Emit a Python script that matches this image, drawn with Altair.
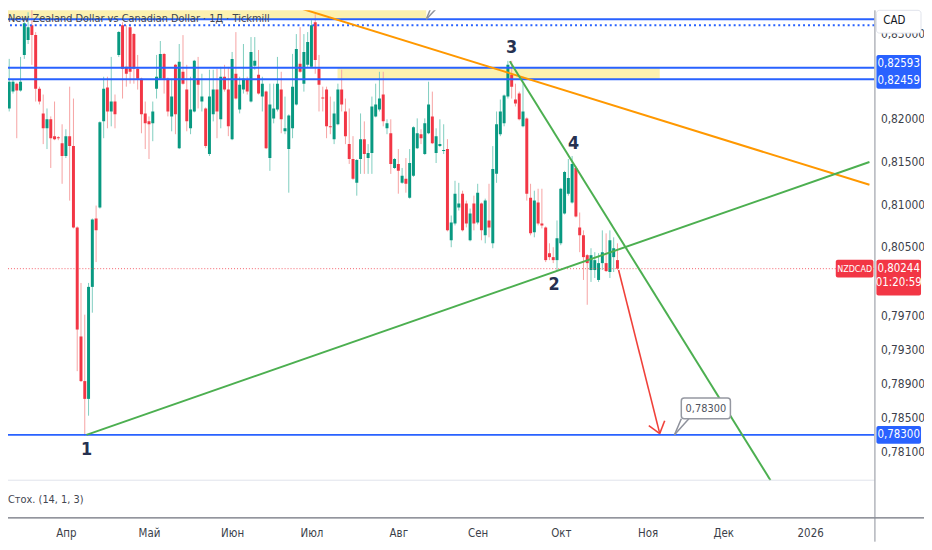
import json
import altair as alt
import pandas as pd

FONT = "Liberation Sans Narrow, DejaVu Sans Condensed, Roboto Condensed, Arial Narrow, sans-serif"

# ---------------- candle data (daily NZDCAD, first candle index = -16, Apr 1 = 0) -------------
first_index = -16
opens = [
    0.82049, 0.82118, 0.82315, 0.82408, 0.82327, 0.82744, 0.82918, 0.83092, 0.82976, 0.82350,
    0.82060, 0.81886, 0.81991, 0.81794, 0.81782, 0.81712, 0.81562, 0.81794, 0.81678, 0.80727,
    0.79451, 0.78929, 0.78721, 0.80031, 0.80831, 0.80959, 0.81967, 0.82362, 0.82083, 0.82199,
    0.82744, 0.83092, 0.82605, 0.83069, 0.82988, 0.82582, 0.82466, 0.82060, 0.81967, 0.81944,
    0.82350, 0.82466, 0.82756, 0.82466, 0.82025, 0.82628, 0.81654, 0.82547, 0.82339, 0.81886,
    0.82083, 0.82466, 0.82199, 0.82118, 0.81585, 0.82049, 0.82339, 0.81991, 0.82489, 0.82339,
    0.81759, 0.82524, 0.82107, 0.82339, 0.82454, 0.82199, 0.82617, 0.82512, 0.82257, 0.82315,
    0.81538, 0.82002, 0.82107, 0.82339, 0.81851, 0.81643, 0.81886, 0.82165, 0.82640, 0.82408,
    0.82628, 0.82605, 0.83127, 0.82582, 0.82246, 0.82339, 0.81909, 0.81759, 0.81933, 0.82339,
    0.82083, 0.81701, 0.81527, 0.81248, 0.81527, 0.81759, 0.81538, 0.81596, 0.82025, 0.82107,
    0.82281, 0.81886, 0.81828, 0.81422, 0.81469, 0.81248, 0.81295, 0.81075, 0.81330, 0.81654,
    0.81817, 0.81585, 0.81828, 0.82025, 0.81596, 0.81678, 0.81619, 0.81643, 0.80576, 0.80773,
    0.80959, 0.81121, 0.81005, 0.80576, 0.81005, 0.80785, 0.81005, 0.80634, 0.80808, 0.80541,
    0.81353, 0.81817, 0.81944, 0.82257, 0.82512, 0.82223, 0.82292, 0.81909, 0.82002, 0.81075,
    0.80669, 0.81017, 0.80773, 0.80727, 0.80425, 0.80379, 0.80344, 0.80541, 0.80889, 0.81121,
    0.81017, 0.81422, 0.80727, 0.80634, 0.80402, 0.80228, 0.80228, 0.80112, 0.80309, 0.80309,
    0.80205, 0.80379, 0.80344,
]
highs = [
    0.82756, 0.82698, 0.82454, 0.82420, 0.82721, 0.83127, 0.83243, 0.83336, 0.83011, 0.82373,
    0.82281, 0.82118, 0.82025, 0.82199, 0.81794, 0.81933, 0.81875, 0.82373, 0.82234, 0.80738,
    0.80077, 0.79706, 0.80077, 0.80831, 0.80982, 0.81967, 0.82489, 0.82489, 0.82721, 0.82281,
    0.83023, 0.83127, 0.83092, 0.83104, 0.83000, 0.82744, 0.82478, 0.82199, 0.82025, 0.82199,
    0.82744, 0.82907, 0.82768, 0.82478, 0.82466, 0.82640, 0.82872, 0.82976, 0.82628, 0.82489,
    0.82686, 0.82721, 0.82524, 0.82130, 0.82571, 0.82571, 0.82582, 0.82605, 0.82628, 0.82605,
    0.82779, 0.83011, 0.82489, 0.82872, 0.82489, 0.82953, 0.82953, 0.82802, 0.82489, 0.82327,
    0.82408, 0.82408, 0.82721, 0.82547, 0.82257, 0.82049, 0.82756, 0.82988, 0.83069, 0.82988,
    0.83011, 0.83150, 0.83220, 0.82744, 0.82373, 0.82373, 0.82257, 0.82199, 0.82408, 0.82571,
    0.82234, 0.82118, 0.81794, 0.81527, 0.82060, 0.81967, 0.81701, 0.82257, 0.82408, 0.82547,
    0.82547, 0.81991, 0.81991, 0.81538, 0.81643, 0.81422, 0.81538, 0.81643, 0.81909, 0.82002,
    0.81875, 0.82002, 0.82431, 0.82315, 0.81886, 0.81991, 0.81933, 0.81759, 0.80866, 0.81272,
    0.81248, 0.81156, 0.81040, 0.80947, 0.81098, 0.81237, 0.81017, 0.81063, 0.81237, 0.81678,
    0.82083, 0.82223, 0.82281, 0.82675, 0.82675, 0.82408, 0.82315, 0.82408, 0.82014, 0.81237,
    0.81156, 0.81179, 0.81179, 0.80738, 0.80541, 0.80495, 0.80808, 0.81190, 0.81388, 0.81527,
    0.81562, 0.81446, 0.80901, 0.80692, 0.80414, 0.80483, 0.80437, 0.80425, 0.80692, 0.80657,
    0.80692, 0.80611, 0.80541,
]
lows = [
    0.82002, 0.82083, 0.82292, 0.81770, 0.82315, 0.82698, 0.82872, 0.82628, 0.82199, 0.82165,
    0.81701, 0.81643, 0.81422, 0.81747, 0.81747, 0.81237, 0.81538, 0.81040, 0.80715, 0.79045,
    0.78918, 0.78290, 0.78524, 0.79729, 0.80321, 0.80947, 0.81770, 0.81886, 0.81909, 0.81886,
    0.82721, 0.82234, 0.82373, 0.82408, 0.82408, 0.82339, 0.81828, 0.81643, 0.81527, 0.81735,
    0.82234, 0.82454, 0.82292, 0.82025, 0.81851, 0.81817, 0.81643, 0.82396, 0.81851, 0.81817,
    0.82072, 0.82118, 0.82083, 0.81654, 0.81562, 0.81967, 0.81770, 0.81886, 0.82315, 0.81794,
    0.81747, 0.82223, 0.82060, 0.82292, 0.82281, 0.82188, 0.82571, 0.82281, 0.82083, 0.81643,
    0.81388, 0.81944, 0.82083, 0.81828, 0.81817, 0.81133, 0.81770, 0.82153, 0.82536, 0.82315,
    0.82605, 0.82594, 0.82524, 0.82083, 0.82083, 0.81770, 0.81817, 0.81701, 0.81921, 0.82083,
    0.81701, 0.81469, 0.81283, 0.81098, 0.81353, 0.81353, 0.81353, 0.81353, 0.82014, 0.82083,
    0.81909, 0.81817, 0.81353, 0.81411, 0.81121, 0.81237, 0.81133, 0.81063, 0.81318, 0.81643,
    0.81701, 0.81573, 0.81817, 0.81701, 0.81480, 0.81666, 0.81585, 0.80680, 0.80495, 0.80750,
    0.80924, 0.80680, 0.80727, 0.80564, 0.80692, 0.80762, 0.80576, 0.80541, 0.80611, 0.80483,
    0.81248, 0.81794, 0.81909, 0.82234, 0.82234, 0.82141, 0.81979, 0.81898, 0.81040, 0.80634,
    0.80611, 0.80750, 0.80715, 0.80321, 0.80344, 0.80309, 0.80228, 0.80518, 0.80878, 0.81098,
    0.81005, 0.80843, 0.80437, 0.80112, 0.79822, 0.80089, 0.80135, 0.80089, 0.80228, 0.80205,
    0.80135, 0.80205, 0.80228,
]
closes = [
    0.82663, 0.82431, 0.82431, 0.82327, 0.82431, 0.83115, 0.83069, 0.82976, 0.82350, 0.82199,
    0.81886, 0.81991, 0.81770, 0.81759, 0.81770, 0.81562, 0.81794, 0.81678, 0.80727, 0.79532,
    0.78929, 0.78721, 0.80031, 0.80819, 0.80692, 0.81956, 0.82350, 0.82083, 0.82199, 0.82049,
    0.83011, 0.82582, 0.82524, 0.82547, 0.82582, 0.82466, 0.82049, 0.81944, 0.81933, 0.82083,
    0.82489, 0.82756, 0.82466, 0.82083, 0.82257, 0.82049, 0.82663, 0.82408, 0.81967, 0.82107,
    0.82675, 0.82396, 0.82257, 0.81678, 0.82257, 0.82339, 0.82083, 0.82489, 0.82339, 0.81909,
    0.82698, 0.82234, 0.82396, 0.82466, 0.82315, 0.82779, 0.82675, 0.82292, 0.82408, 0.81654,
    0.82165, 0.82118, 0.82408, 0.81991, 0.81886, 0.82037, 0.82373, 0.82814, 0.82547, 0.82779,
    0.82895, 0.83092, 0.82686, 0.82396, 0.82234, 0.81909, 0.81898, 0.82060, 0.82339, 0.82165,
    0.81794, 0.81527, 0.81295, 0.81515, 0.81759, 0.81585, 0.81596, 0.82141, 0.82165, 0.82234,
    0.81967, 0.81944, 0.81469, 0.81527, 0.81388, 0.81330, 0.81237, 0.81480, 0.81898, 0.81828,
    0.81770, 0.81944, 0.82165, 0.81712, 0.81794, 0.81701, 0.81631, 0.80692, 0.80785, 0.81121,
    0.81005, 0.80692, 0.80773, 0.80889, 0.80773, 0.81133, 0.80692, 0.81040, 0.80727, 0.81411,
    0.81933, 0.82083, 0.82269, 0.82628, 0.82373, 0.82176, 0.81991, 0.82083, 0.81121, 0.80657,
    0.81040, 0.80773, 0.80750, 0.80344, 0.80379, 0.80344, 0.80599, 0.81179, 0.81376, 0.81306,
    0.81469, 0.80854, 0.80634, 0.80379, 0.80309, 0.80402, 0.80344, 0.80309, 0.80437, 0.80216,
    0.80576, 0.80483, 0.80244,
]

# ---------------- axis labels ----------------
month_index = [0, 22, 44, 65, 88, 109, 131, 154, 174, 197]
month_names = ["Апр", "Май", "Июн", "Июл", "Авг", "Сен", "Окт", "Ноя", "Дек", "2026"]
price_ticks = [0.83, 0.82, 0.815, 0.81, 0.805, 0.797, 0.793, 0.789, 0.785, 0.781]

# ---------------- drawings ----------------
level_prices = [0.83336, 0.83162, 0.82593, 0.82459, 0.78300]
dotted_level = [0.83092]
last_price = [0.80244]

zone_x1 = [-16.1, 71.9]
zone_x2 = [95.4, 157.2]
zone_top = [0.83336, 0.82593]
zone_bottom = [0.83162, 0.82459]

trend_x1 = [57.0, 5.45, 117.5]
trend_p1 = [0.83359, 0.78300, 0.82671]
trend_x2 = [212.7, 212.7, 186.5]
trend_p2 = [0.81225, 0.81492, 0.77770]
trend_color = ["#FF9800", "#4CAF50", "#4CAF50"]

arrow_x1 = [146.3, 154.3, 158.5]
arrow_p1 = [0.80228, 0.78408, 0.78466]
arrow_x2 = [157.2, 157.2, 157.2]
arrow_p2 = [0.78315, 0.78315, 0.78315]

tail_x1 = [161.1, 161.1, 95.4, 95.4]
tail_p1 = [0.78300, 0.78300, 0.83162, 0.83162]
tail_x2 = [162.9, 164.9, 97.0, 99.1]
tail_p2 = [0.78489, 0.78489, 0.83336, 0.83336]

callout_box = {"x1": [162.9], "x2": [175.9], "p1": [0.78732], "p2": [0.78489]}
callout_text = {"x": [169.4], "p": [0.78605], "t": ["0,78300"]}

wave_labels = ["1", "2", "3", "4"]
wave_x = [5.45, 129.2, 118.0, 134.4]
wave_p = [0.78118, 0.80054, 0.82826, 0.81701]

UP, DOWN = "#089981", "#F23645"
UP_W, DOWN_W = "#7fcdbf", "#f6a2a2"
BLUE = "#2962FF"

# ---------------- scales / axes ----------------
n = len(opens)
candles = pd.DataFrame({
    "i": list(range(first_index, first_index + n)),
    "o": opens, "h": highs, "l": lows, "c": closes,
})

xs = alt.Scale(domain=[-14.01, 212.71], nice=False, zero=False)
ys = alt.Scale(domain=[0.77097, 0.83266], nice=False, zero=False)

m_idx = json.dumps(month_index)
m_nam = json.dumps(month_names, ensure_ascii=False)
xaxis = alt.Axis(
    values=month_index, labelExpr=f"{m_nam}[indexof({m_idx}, datum.value)]",
    orient="bottom", offset=-20, domain=False, ticks=False, tickSize=0, grid=False,
    labelPadding=10, labelFont=FONT, labelFontSize=11.5, labelColor="#3c3f4a",
    labelOverlap=False, labelFlush=False,
)
yaxis = alt.Axis(
    values=price_ticks, labelExpr="replace(format(datum.value, '.5f'), '.', ',')",
    orient="right", domain=False, ticks=False, tickSize=0, grid=False,
    labelPadding=6, labelFont=FONT, labelFontSize=12, labelColor="#3c3f4a",
    labelOverlap=False, labelFlush=False,
)


def X(f):
    return alt.X(f, type="quantitative", scale=xs, axis=xaxis, title=None)


def Y(f):
    return alt.Y(f, type="quantitative", scale=ys, axis=yaxis, title=None)


up_test = "datum.c >= datum.o"

zones = pd.DataFrame({"x1": zone_x1, "x2": zone_x2, "p1": zone_top, "p2": zone_bottom})
zone_layer = alt.Chart(zones).mark_rect(color="#fcf1b0", clip=True).encode(
    x=X("x1"), x2="x2", y=Y("p1"), y2="p2")

wicks = alt.Chart(candles).mark_rule(strokeWidth=1, clip=True).encode(
    x=X("i"), y=Y("l"), y2="h",
    color=alt.condition(up_test, alt.value(UP_W), alt.value(DOWN_W)))

bodies = alt.Chart(candles).mark_bar(size=3, clip=True).encode(
    x=X("i"), y=Y("o"), y2="c",
    color=alt.condition(up_test, alt.value(UP), alt.value(DOWN)))

levels = alt.Chart(pd.DataFrame({"p": level_prices})).mark_rule(
    color=BLUE, strokeWidth=2, clip=True).encode(y=Y("p"))
dotted = alt.Chart(pd.DataFrame({"p": dotted_level})).mark_rule(
    color=BLUE, strokeWidth=2, strokeDash=[2, 3], clip=True).encode(y=Y("p"))
price_line = alt.Chart(pd.DataFrame({"p": last_price})).mark_rule(
    color=DOWN, strokeWidth=1, strokeDash=[1, 2], opacity=0.8, clip=True).encode(y=Y("p"))

trends = pd.DataFrame({"x1": trend_x1, "p1": trend_p1, "x2": trend_x2, "p2": trend_p2,
                       "col": trend_color})
trend_layer = alt.Chart(trends).mark_rule(strokeWidth=2, clip=True).encode(
    x=X("x1"), x2="x2", y=Y("p1"), y2="p2", color=alt.Color("col:N", scale=None))

arrow = pd.DataFrame({"x1": arrow_x1, "p1": arrow_p1, "x2": arrow_x2, "p2": arrow_p2})
arrow_layer = alt.Chart(arrow).mark_rule(strokeWidth=1.6, color="#F0413A", clip=True).encode(
    x=X("x1"), x2="x2", y=Y("p1"), y2="p2")

tails = pd.DataFrame({"x1": tail_x1, "p1": tail_p1, "x2": tail_x2, "p2": tail_p2})
tail_layer = alt.Chart(tails).mark_rule(strokeWidth=1.5, color="#8f929c", clip=True).encode(
    x=X("x1"), x2="x2", y=Y("p1"), y2="p2")

cbox = alt.Chart(pd.DataFrame(callout_box)).mark_rect(
    fill="white", stroke="#9598a1", strokeWidth=1.5, cornerRadius=3, clip=True).encode(
    x=X("x1"), x2="x2", y=Y("p1"), y2="p2")
ctext = alt.Chart(pd.DataFrame(callout_text)).mark_text(
    font=FONT, fontSize=11, color="#50535e").encode(x=X("x"), y=Y("p"), text="t:N")

waves = pd.DataFrame({"t": wave_labels, "x": wave_x, "p": wave_p})
wave_layer = alt.Chart(waves).mark_text(
    font=FONT, fontSize=18, fontWeight="bold", color="#263150").encode(
    x=X("x"), y=Y("p"), text="t:N")

# ---------------- chart chrome (panes, header) ----------------
one = pd.DataFrame({"k": [0]})
title_text = alt.Chart(one).mark_text(
    text="New Zealand Dollar vs Canadian Dollar · 1Д · Tickmill", font=FONT, fontSize=11,
    color="#434651", align="left", baseline="middle").encode(x=alt.value(0), y=alt.value(9))
stoch_text = alt.Chart(one).mark_text(
    text="Стох. (14, 1, 3)", font=FONT, fontSize=11, color="#434651",
    align="left", baseline="middle").encode(x=alt.value(0), y=alt.value(494))
pane_sep = alt.Chart(one).mark_rule(color="#e0e3eb", strokeWidth=1).encode(
    x=alt.value(0), x2=alt.value(874), y=alt.value(474))
time_line = alt.Chart(one).mark_rule(color="#6f727d", strokeWidth=1.2).encode(
    x=alt.value(0), x2=alt.value(924), y=alt.value(512))
price_axis_line = alt.Chart(one).mark_rule(color="#8c8f99", strokeWidth=1).encode(
    x=alt.value(874.5), y=alt.value(0), y2=alt.value(536))

cad_box = alt.Chart(one).mark_rect(
    fill="white", stroke="#e0e3eb", strokeWidth=1, cornerRadius=3).encode(
    x=alt.value(876), x2=alt.value(921), y=alt.value(0), y2=alt.value(23))
cad_text = alt.Chart(one).mark_text(
    text="CAD", font=FONT, fontSize=11.5, color="#131722").encode(
    x=alt.value(894), y=alt.value(11))


def axis_box(price, top, bottom, fill, x1=876, x2=921):
    d = pd.DataFrame({"p": [price]})
    return alt.Chart(d).mark_rect(fill=fill, yOffset=top, y2Offset=bottom, cornerRadius=2).encode(
        x=alt.value(x1), x2=alt.value(x2), y=Y("p"), y2="p")


def axis_text(price, text, dy, xpos=898.5, size=11.5):
    d = pd.DataFrame({"p": [price], "t": [text]})
    return alt.Chart(d).mark_text(font=FONT, fontSize=size, color="white", dy=dy).encode(
        x=alt.value(xpos), y=Y("p"), text="t:N")


def fmt(p):
    return f"{p:.5f}".replace(".", ",")


lab_layers = [
    axis_box(level_prices[2], -13, 21, BLUE),
    axis_text(level_prices[2], fmt(level_prices[2]), -4),
    axis_text(level_prices[2], fmt(level_prices[3]), 13),
    axis_box(last_price[0], -9, 27, DOWN),
    axis_text(last_price[0], fmt(last_price[0]), 0),
    axis_text(last_price[0], "01:20:59", 14),
    axis_box(last_price[0], -9, 9, DOWN, x1=835, x2=873),
    axis_text(last_price[0], "NZDCAD", 0, xpos=854, size=9),
    axis_box(level_prices[4], -9, 9, BLUE),
    axis_text(level_prices[4], fmt(level_prices[4]), 0),
]

chart = alt.layer(
    zone_layer, wicks, bodies, levels, dotted, price_line,
    trend_layer, arrow_layer, tail_layer, cbox, ctext, wave_layer,
    title_text, stoch_text, pane_sep, time_line, price_axis_line,
    *lab_layers, cad_box, cad_text,
).properties(
    width=874, height=532,
    padding={"left": 0, "top": 0, "right": 50, "bottom": 4},
    autosize=alt.AutoSizeParams(type="none"),
    background="white",
).configure_view(stroke=None)

chart.save("out.html", embed_options={"renderer": "svg", "actions": False})
